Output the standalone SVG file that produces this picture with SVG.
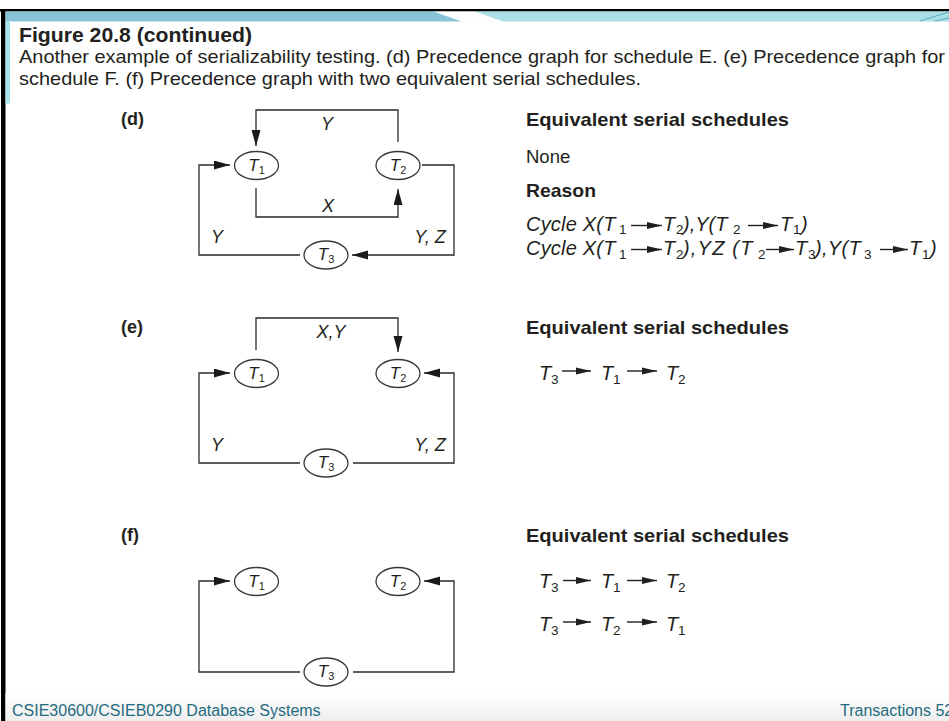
<svg xmlns="http://www.w3.org/2000/svg" width="949" height="721" viewBox="0 0 949 721">
<style>
.cap{font-family:"Liberation Sans",Arial,sans-serif;fill:#231f20}
.hd{font-family:"Liberation Sans",Arial,sans-serif;font-weight:bold;font-size:18.5px;fill:#231f20}
.tx{font-family:"Liberation Sans",Arial,sans-serif;font-size:18.5px;fill:#231f20}
.it{font-family:"Liberation Sans",Arial,sans-serif;font-style:italic;font-size:20px;fill:#231f20}
.sub{font-size:13.5px;font-style:normal}
.nl{font-family:"Liberation Sans",Arial,sans-serif;font-style:italic;font-size:17px;fill:#231f20;text-anchor:middle}
.el{font-family:"Liberation Sans",Arial,sans-serif;font-style:italic;font-size:18px;fill:#231f20;text-anchor:middle}
.sec{font-family:"Liberation Sans",Arial,sans-serif;font-weight:bold;font-size:18px;fill:#231f20}
.node{fill:#fff;stroke:#3a3a3a;stroke-width:1.3}
.edge{fill:none;stroke:#2a2a2a;stroke-width:1.3;marker-end:url(#ah)}
.ta{fill:none;stroke:#231f20;stroke-width:1.4;marker-end:url(#sah)}
.foot{font-family:"Liberation Sans",Arial,sans-serif;font-size:16px;fill:#1f6b80}
</style>
<defs>
<marker id="ah" markerUnits="userSpaceOnUse" markerWidth="17" markerHeight="10" refX="16" refY="4.5" orient="auto">
<path d="M0,0 L16,4.5 L0,9 z" fill="#1a1a1a"/>
</marker>
<marker id="sah" markerUnits="userSpaceOnUse" markerWidth="16" markerHeight="9" refX="15" refY="4" orient="auto">
<path d="M0,0.5 L15,4 L0,7.5 z" fill="#231f20"/>
</marker>
<linearGradient id="fg" x1="0" y1="0" x2="0" y2="1">
<stop offset="0" stop-color="#ffffff"/>
<stop offset="1" stop-color="#eeeeee"/>
</linearGradient>
</defs>
<rect x="0" y="0" width="949" height="721" fill="#fff"/>
<!-- frame / header band -->
<rect x="0" y="9" width="949" height="2.5" fill="#000"/>
<rect x="1" y="9" width="4.5" height="712" fill="#000"/>
<polygon points="5.5,11.5 434,11.5 462,21.5 5.5,21.5" fill="#88c4d8"/>
<polygon points="434,11.5 475,11.5 503,21.5 462,21.5" fill="#fbfdfe"/>
<polygon points="475,11.5 949,11.5 949,21.5 503,21.5" fill="#a9dfe5"/>
<line x1="920" y1="21" x2="949" y2="12" stroke="#5aa9c9" stroke-width="1"/>
<line x1="935" y1="21" x2="949" y2="18" stroke="#5aa9c9" stroke-width="1"/>
<rect x="5.5" y="21.5" width="4.5" height="82" fill="#a9e3ea"/>
<rect x="5.5" y="693" width="943.5" height="28" fill="url(#fg)"/>

<!-- caption -->
<text class="cap" x="19" y="42" font-size="20" font-weight="bold" textLength="233" lengthAdjust="spacingAndGlyphs">Figure 20.8 (continued)</text>
<text class="cap" x="19" y="63" font-size="19" textLength="926" lengthAdjust="spacingAndGlyphs">Another example of serializability testing. (d) Precedence graph for schedule E. (e) Precedence graph for</text>
<text class="cap" x="19" y="85" font-size="19" textLength="622" lengthAdjust="spacingAndGlyphs">schedule F. (f) Precedence graph with two equivalent serial schedules.</text>

<!-- section labels -->
<text class="sec" x="121" y="125">(d)</text>
<text class="sec" x="121" y="333">(e)</text>
<text class="sec" x="121" y="541">(f)</text>

<g id="connectors">
<path class="edge" d="M398,142 V110 H256 V146"/>
<path class="edge" d="M256,188 V217 H398 V189"/>
<path class="edge" d="M300,255 H199 V165 H230"/>
<path class="edge" d="M422,165 H454 V255 H352"/>
<path class="edge" d="M256,350 V318 H398 V352"/>
<path class="edge" d="M300,463 H199 V373 H230"/>
<path class="edge" d="M353,463 H454 V373 H424"/>
<path class="edge" d="M300,672 H199 V581 H230"/>
<path class="edge" d="M353,672 H454 V581 H424"/>
</g>

<g id="edge-labels">
<text class="el" x="327" y="130">Y</text>
<text class="el" x="328" y="212">X</text>
<text class="el" x="217" y="243">Y</text>
<text class="el" x="430" y="243">Y, Z</text>
<text class="el" x="331" y="338">X,Y</text>
<text class="el" x="217" y="451">Y</text>
<text class="el" x="430" y="451">Y, Z</text>
</g>

<g id="d-T1"><ellipse class="node" cx="256.5" cy="165.5" rx="22" ry="14"/><text class="nl" x="256.5" y="170.5">T<tspan font-size="11" font-style="normal" dy="3">1</tspan></text></g>
<g id="d-T2"><ellipse class="node" cx="398" cy="165.5" rx="22" ry="14"/><text class="nl" x="398" y="170.5">T<tspan font-size="11" font-style="normal" dy="3">2</tspan></text></g>
<g id="d-T3"><ellipse class="node" cx="326" cy="255" rx="22" ry="14"/><text class="nl" x="326" y="260">T<tspan font-size="11" font-style="normal" dy="3">3</tspan></text></g>

<g id="e-T1"><ellipse class="node" cx="256.5" cy="373.5" rx="22" ry="14"/><text class="nl" x="256.5" y="378.5">T<tspan font-size="11" font-style="normal" dy="3">1</tspan></text></g>
<g id="e-T2"><ellipse class="node" cx="398" cy="373.5" rx="22" ry="14"/><text class="nl" x="398" y="378.5">T<tspan font-size="11" font-style="normal" dy="3">2</tspan></text></g>
<g id="e-T3"><ellipse class="node" cx="326" cy="463" rx="22" ry="14"/><text class="nl" x="326" y="468">T<tspan font-size="11" font-style="normal" dy="3">3</tspan></text></g>

<g id="f-T1"><ellipse class="node" cx="256.5" cy="581.5" rx="22" ry="14"/><text class="nl" x="256.5" y="586.5">T<tspan font-size="11" font-style="normal" dy="3">1</tspan></text></g>
<g id="f-T2"><ellipse class="node" cx="398" cy="581.5" rx="22" ry="14"/><text class="nl" x="398" y="586.5">T<tspan font-size="11" font-style="normal" dy="3">2</tspan></text></g>
<g id="f-T3"><ellipse class="node" cx="326" cy="672" rx="22" ry="14"/><text class="nl" x="326" y="677">T<tspan font-size="11" font-style="normal" dy="3">3</tspan></text></g>

<!-- right column (d) -->
<g id="d-text">
<text class="hd" x="526" y="126" textLength="263" lengthAdjust="spacingAndGlyphs">Equivalent serial schedules</text>
<text class="tx" x="526" y="163">None</text>
<text class="hd" x="526" y="197" textLength="70" lengthAdjust="spacingAndGlyphs">Reason</text>
<text class="it" y="231"><tspan x="526" letter-spacing="0.2">Cycle X(T</tspan><tspan class="sub" x="619" y="234">1</tspan><tspan x="663" y="231">T</tspan><tspan class="sub" x="676" y="234">2</tspan><tspan x="683" y="231">),Y(T</tspan><tspan class="sub" x="733" y="234">2</tspan><tspan x="780" y="231">T</tspan><tspan class="sub" x="793" y="234">1</tspan><tspan x="801" y="231">)</tspan></text>
<line class="ta" x1="631" y1="225.5" x2="662" y2="225.5"/>
<line class="ta" x1="748" y1="225.5" x2="778" y2="225.5"/>

<text class="it" y="255"><tspan x="526" letter-spacing="0.2">Cycle X(T</tspan><tspan class="sub" x="619" y="259">1</tspan><tspan x="663" y="255">T</tspan><tspan class="sub" x="676" y="259">2</tspan><tspan x="683" y="255" letter-spacing="1.2">),YZ (T</tspan><tspan class="sub" x="758" y="259">2</tspan><tspan x="795" y="255">T</tspan><tspan class="sub" x="808" y="259">3</tspan><tspan x="815" y="255" letter-spacing="0.3">),Y(T</tspan><tspan class="sub" x="864" y="259">3</tspan><tspan x="909" y="255">T</tspan><tspan class="sub" x="922" y="259">1</tspan><tspan x="930" y="255">)</tspan></text>
<line class="ta" x1="631" y1="249.5" x2="662" y2="249.5"/>
<line class="ta" x1="766" y1="249.5" x2="794" y2="249.5"/>
<line class="ta" x1="880" y1="249.5" x2="908" y2="249.5"/>
</g>

<!-- right column (e) -->
<g id="e-text">
<text class="hd" x="526" y="334" textLength="263" lengthAdjust="spacingAndGlyphs">Equivalent serial schedules</text>
<text class="it" y="380"><tspan x="539">T</tspan><tspan class="sub" x="551" y="384">3</tspan><tspan x="601" y="380">T</tspan><tspan class="sub" x="613" y="384">1</tspan><tspan x="666" y="380">T</tspan><tspan class="sub" x="678" y="384">2</tspan></text>
<line class="ta" x1="562" y1="371" x2="591" y2="371"/>
<line class="ta" x1="627" y1="371" x2="657" y2="371"/>
</g>

<!-- right column (f) -->
<g id="f-text">
<text class="hd" x="526" y="542" textLength="263" lengthAdjust="spacingAndGlyphs">Equivalent serial schedules</text>
<text class="it" y="588"><tspan x="539">T</tspan><tspan class="sub" x="551" y="592">3</tspan><tspan x="601" y="588">T</tspan><tspan class="sub" x="613" y="592">1</tspan><tspan x="666" y="588">T</tspan><tspan class="sub" x="678" y="592">2</tspan></text>
<line class="ta" x1="563" y1="580.5" x2="591" y2="580.5"/>
<line class="ta" x1="627" y1="580.5" x2="657" y2="580.5"/>
<text class="it" y="631"><tspan x="539">T</tspan><tspan class="sub" x="551" y="635">3</tspan><tspan x="601" y="631">T</tspan><tspan class="sub" x="613" y="635">2</tspan><tspan x="666" y="631">T</tspan><tspan class="sub" x="678" y="635">1</tspan></text>
<line class="ta" x1="563" y1="622" x2="591" y2="622"/>
<line class="ta" x1="627" y1="622" x2="657" y2="622"/>
</g>

<!-- footer -->
<text class="foot" x="12" y="716">CSIE30600/CSIEB0290 Database Systems</text>
<text class="foot" x="840" y="716">Transactions 52</text>
</svg>
